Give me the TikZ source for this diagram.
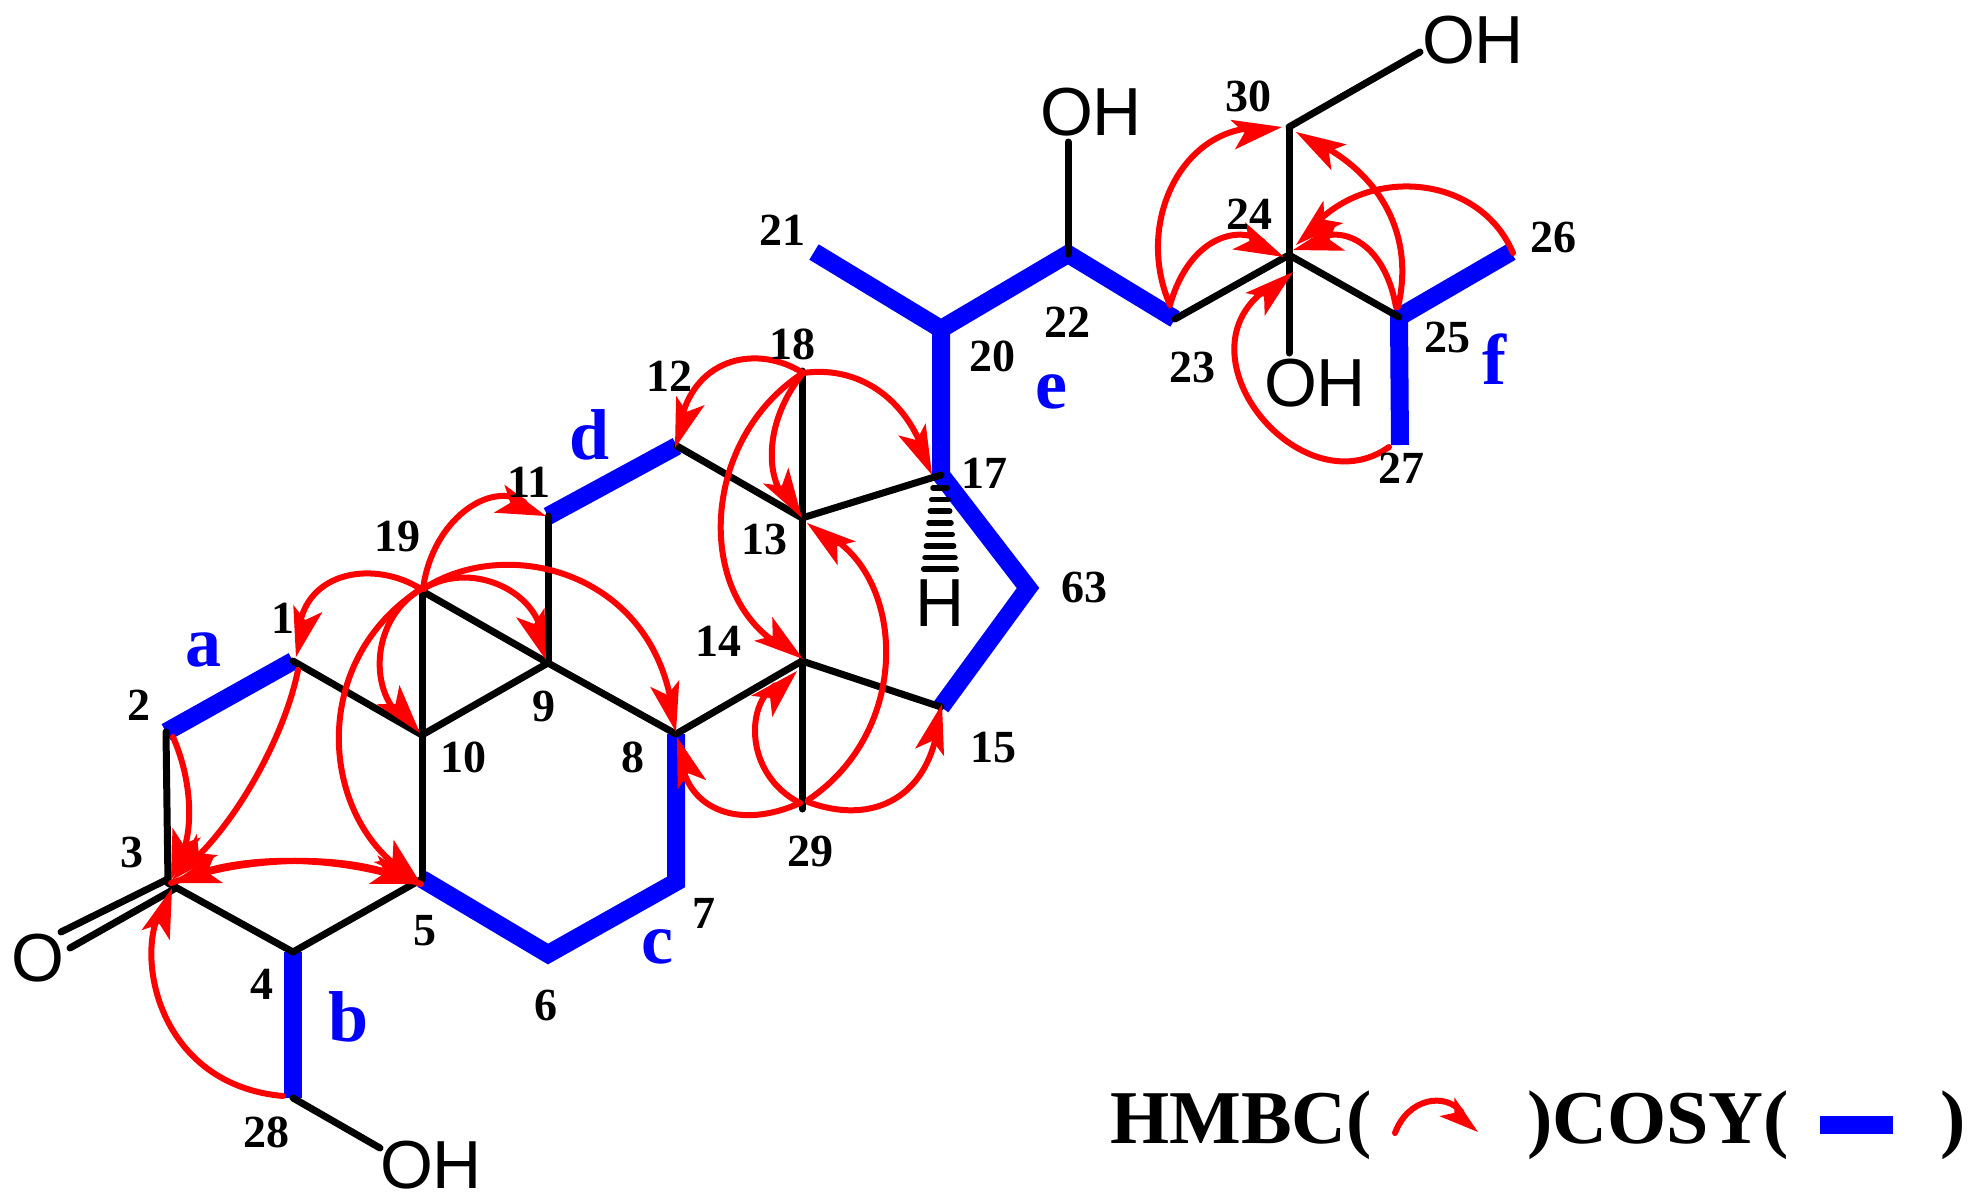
\documentclass[tikz,border=0pt]{standalone}
\usepackage{fontspec}
\setmainfont{Liberation Serif}
\newfontfamily\atomfont{Liberation Sans}
\usetikzlibrary{decorations.markings}
\definecolor{cosyblue}{RGB}{0,0,255}
\definecolor{hmbcred}{RGB}{255,0,0}
\tikzset{
  bond/.style={draw=black,line width=7pt,line cap=round},
  cosy/.style={draw=cosyblue,line width=18pt,line join=miter,miter limit=10},
  hmbcline/.style={draw=hmbcred,line width=6pt,shorten >=26pt},
  hmbchead/.style={fill=hmbcred},
  headback/.style={decorate,decoration={markings,mark=at position -38pt with {\coordinate (hback);}}},
  num/.style={inner sep=0pt,font=\fontsize{46}{46}\selectfont\bfseries},
  let/.style={inner sep=0pt,text=cosyblue,font=\fontsize{72}{72}\selectfont\bfseries},
  atomlabel/.style={inner sep=0pt,font=\fontsize{68}{68}\selectfont\atomfont},
  legendtext/.style={inner sep=0pt,anchor=base west,font=\fontsize{76}{76}\selectfont\bfseries},
  hashline/.style={draw=black,line width=5.5pt,line cap=round}
}
% one HMBC correlation: start, control, control, tip; the head follows the last stretch of the curve
\newcommand{\hmbcarc}[5][1]{%
  \path[headback] (#2) .. controls (#3) and (#4) .. (#5);
  \pgfmathanglebetweenpoints{\pgfpointanchor{hback}{center}}{\pgfpointanchor{#5}{center}}%
  \let\hmbcang\pgfmathresult
  \draw[hmbcline,line cap=round] (#2) .. controls (#3) and (#4) .. (#5);
  \fill[hmbchead,shift={(#5)},rotate=\hmbcang,scale=#1] (0,0) -- (-50,15) -- (-38,0) -- (-50,-15) -- cycle;
}
\begin{document}
\begin{tikzpicture}[x=1pt,y=-1pt]
\useasboundingbox (0,0) rectangle (1978,1200);
% skeleton coordinates
\coordinate (c1) at (293,661);
\coordinate (c2) at (166,732);
\coordinate (c3) at (168,883);
\coordinate (c4) at (293,952);
\coordinate (c5) at (422,879);
\coordinate (c6) at (548,954);
\coordinate (c7) at (676,882);
\coordinate (c8) at (676,734);
\coordinate (c9) at (548,663);
\coordinate (c10) at (422,735);
\coordinate (c11) at (548,516);
\coordinate (c12) at (677,446);
\coordinate (c13) at (802,518);
\coordinate (c14) at (802,661);
\coordinate (c15) at (941,707);
\coordinate (c16) at (1028,588);
\coordinate (c17) at (941,475);
\coordinate (c18) at (802,371);
\coordinate (c19) at (422,591);
\coordinate (c20) at (941,329);
\coordinate (c21) at (814,252);
\coordinate (c22) at (1068,254);
\coordinate (c23) at (1175,319);
\coordinate (c24) at (1289,255);
\coordinate (c25) at (1399,317);
\coordinate (c26) at (1511,252);
\coordinate (c27) at (1400,445);
\coordinate (c28) at (293,1098);
\coordinate (c29) at (802,809);
\coordinate (c30) at (1289,127);
\coordinate (o22) at (1068,142);
\coordinate (o24) at (1289,353);
\coordinate (o28) at (380,1148);
\coordinate (o30) at (1420,52);
\coordinate (db1a) at (168,879);
\coordinate (db1b) at (61,932);
\coordinate (db2a) at (176,888);
\coordinate (db2b) at (70,948);
% COSY bonds
\draw[cosy] (c2) -- (c1);
\draw[cosy] (c4) -- (c28);
\draw[cosy] (c5) -- (c6) -- (c7) -- (c8);
\draw[cosy] (c11) -- (c12);
\draw[cosy] (c21) -- (c20) -- (c22) -- (c23);
\draw[cosy] (c20) -- (c17) -- (c16) -- (c15);
\draw[cosy] (c26) -- (c25) -- (c27);
% plain bonds
\draw[bond] (c2) -- (c3);
\draw[bond] (c3) -- (c4);
\draw[bond] (c4) -- (c5);
\draw[bond] (c5) -- (c10);
\draw[bond] (c10) -- (c1);
\draw[bond] (c10) -- (c9);
\draw[bond] (c10) -- (c19);
\draw[bond] (c19) -- (c9);
\draw[bond] (c9) -- (c11);
\draw[bond] (c9) -- (c8);
\draw[bond] (c8) -- (c14);
\draw[bond] (c12) -- (c13);
\draw[bond] (c13) -- (c17);
\draw[bond] (c18) -- (c29);
\draw[bond] (c14) -- (c15);
\draw[bond] (c22) -- (o22);
\draw[bond] (c23) -- (c24);
\draw[bond] (c24) -- (c25);
\draw[bond] (c24) -- (o24);
\draw[bond] (c24) -- (c30);
\draw[bond] (c30) -- (o30);
\draw[bond] (c28) -- (o28);
\draw[bond] (db1a) -- (db1b);
\draw[bond] (db2a) -- (db2b);
% hashed bond to H
\foreach \yy/\hw in {488/7,499.6/8.3,511.2/9.7,522.8/11,534.4/12.3,546/13.6,557.6/15,569.2/16.3}{
  \draw[hashline] (940-\hw,\yy) -- (940+\hw,\yy);
}
% HMBC correlations
\coordinate (r1a) at (421,589); \coordinate (r1b) at (296,657);
\hmbcarc{r1a}{375,560}{305,570}{r1b}
\coordinate (r2a) at (423,589); \coordinate (r2b) at (546,516);
\hmbcarc{r2a}{432,520}{490,480}{r2b}
\coordinate (r3b) at (546,660);
\hmbcarc{r2a}{470,560}{535,590}{r3b}
\coordinate (r4b) at (676,732);
\hmbcarc{r2a}{505,535}{650,570}{r4b}
\coordinate (r5b) at (420,733);
\hmbcarc{r1a}{370,620}{370,690}{r5b}
\coordinate (r6b) at (421,884);
\hmbcarc{r1a}{310,660}{320,810}{r6b}
\coordinate (r7a) at (298,670); \coordinate (r7b) at (172,880);
\hmbcarc{r7a}{285,735}{238,820}{r7b}
\coordinate (r8a) at (173,737); \coordinate (r8b) at (171,880);
\hmbcarc{r8a}{190,775}{195,825}{r8b}
\coordinate (r9a) at (171,883);
\hmbcarc{r9a}{250,855}{340,855}{r6b}
\hmbcarc{r6b}{340,855}{250,855}{r9a}
\coordinate (r10a) at (283,1096); \coordinate (r10b) at (172,888);
\hmbcarc{r10a}{160,1085}{135,960}{r10b}
\coordinate (r11a) at (803,373); \coordinate (r11b) at (675,448);
\hmbcarc{r11a}{760,345}{695,355}{r11b}
\coordinate (r12b) at (932,475);
\hmbcarc{r11a}{860,365}{905,400}{r12b}
\coordinate (r13b) at (802,518);
\hmbcarc{r11a}{765,420}{765,475}{r13b}
\coordinate (r14b) at (803,659);
\hmbcarc{r11a}{700,440}{695,595}{r14b}
\coordinate (r15a) at (808,800); \coordinate (r15b) at (807,523);
\hmbcarc{r15a}{912,730}{905,580}{r15b}
\coordinate (r16a) at (808,802); \coordinate (r16b) at (942,704);
\hmbcarc{r16a}{870,825}{925,800}{r16b}
\coordinate (r17a) at (800,803); \coordinate (r17b) at (797,671);
\hmbcarc{r17a}{745,775}{745,705}{r17b}
\coordinate (r18b) at (677,737);
\hmbcarc{r17a}{740,830}{690,810}{r18b}
\coordinate (r19a) at (1170,305); \coordinate (r19b) at (1282,127);
\hmbcarc{r19a}{1135,225}{1180,130}{r19b}
\coordinate (r20b) at (1284,257);
\hmbcarc{r19a}{1190,235}{1240,225}{r20b}
\coordinate (r21a) at (1389,447); \coordinate (r21b) at (1293,272);
\hmbcarc{r21a}{1300,510}{1170,350}{r21b}
\coordinate (r22a) at (1396,307); \coordinate (r22b) at (1293,250);
\hmbcarc{r22a}{1385,245}{1345,225}{r22b}
\coordinate (r23a) at (1398,307); \coordinate (r23b) at (1296,132);
\hmbcarc{r23a}{1415,235}{1380,175}{r23b}
\coordinate (r24a) at (1513,253); \coordinate (r24b) at (1296,245);
\hmbcarc{r24a}{1480,175}{1370,165}{r24b}
% atom labels
\node[atomlabel] (atomO) at (38,958) {O};
\node[atomlabel] (oh22) at (1091,112) {OH};
\node[atomlabel] (oh24) at (1315,383) {OH};
\node[atomlabel] (oh28) at (431,1165) {OH};
\node[atomlabel] (oh30) at (1473,40) {OH};
\node[atomlabel] (hatom) at (940,603) {H};
% numbers
\node[num] (n1) at (283,618) {1};
\node[num] (n2) at (139,705) {2};
\node[num] (n3) at (132,852) {3};
\node[num] (n4) at (262,984) {4};
\node[num] (n5) at (425,931) {5};
\node[num] (n6) at (546,1005) {6};
\node[num] (n7) at (704,913) {7};
\node[num] (n8) at (633,757) {8};
\node[num] (n9) at (544,706) {9};
\node[num] (n10) at (463,757) {10};
\node[num] (n11) at (529,482) {11};
\node[num] (n12) at (669,376) {12};
\node[num] (n13) at (764,539) {13};
\node[num] (n14) at (718,641) {14};
\node[num] (n15) at (993,748) {15};
\node[num] (n63) at (1084,587) {63};
\node[num] (n17) at (984,473) {17};
\node[num] (n18) at (792,344) {18};
\node[num] (n19) at (397,536) {19};
\node[num] (n20) at (992,356) {20};
\node[num] (n21) at (782,230) {21};
\node[num] (n22) at (1067,322) {22};
\node[num] (n23) at (1192,367) {23};
\node[num] (n24) at (1249,214) {24};
\node[num] (n25) at (1447,337) {25};
\node[num] (n26) at (1553,237) {26};
\node[num] (n27) at (1401,468) {27};
\node[num] (n28) at (266,1132) {28};
\node[num] (n29) at (810,851) {29};
\node[num] (n30) at (1248,96) {30};
% fragment letters
\node[let] (la) at (203,650) {a};
\node[let] (lb) at (349,1017) {b};
\node[let] (lc) at (657,947) {c};
\node[let] (ld) at (590,435) {d};
\node[let] (le) at (1051,392) {e};
\node[let] (lf) at (1494,359) {f};
% legend
\node[legendtext] (leg1) at (1110,1143) {HMBC(};
\node[legendtext] (leg2) at (1527,1143) {)COSY(};
\node[legendtext] (leg3) at (1940,1143) {)};
\coordinate (lega) at (1395,1133); \coordinate (legb) at (1478,1132);
\hmbcarc[0.8]{lega}{1408,1098}{1445,1092}{legb}
\fill[cosyblue] (1820,1116) rectangle (1893,1134);
\end{tikzpicture}
\end{document}
